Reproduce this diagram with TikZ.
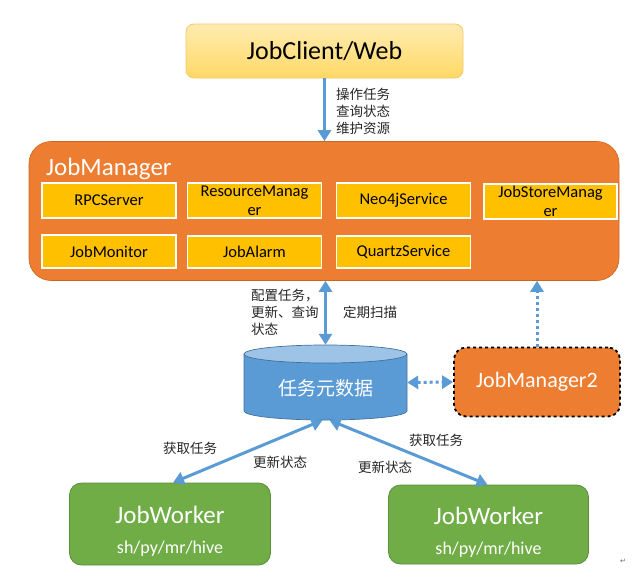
\documentclass[tikz,border=0pt]{standalone}
\usepackage{fontspec}
\setmainfont{Carlito}
\newfontfamily\cjk{Noto Sans CJK SC}
\newfontfamily\djv{DejaVu Sans}
\usetikzlibrary{arrows.meta}
\definecolor{arrowblue}{HTML}{5B9BD5}
\definecolor{jmorange}{HTML}{ED7D31}
\definecolor{jmborder}{HTML}{C9651F}
\definecolor{subfill}{HTML}{FFC000}
\definecolor{wgreen}{HTML}{70AD47}
\definecolor{wborder}{HTML}{5B8F3A}
\definecolor{cltop}{HTML}{FFEBB0}
\definecolor{clbot}{HTML}{FFD966}
\definecolor{clborder}{HTML}{F6C76B}
\definecolor{cylbody}{HTML}{5B9BD5}
\definecolor{cyltop}{HTML}{9DC3E6}
\definecolor{cylborder}{HTML}{41719C}
\tikzset{
  flow/.style={line width=3pt, draw=arrowblue, -{Triangle[length=11pt,width=13pt]}},
  flowboth/.style={line width=3pt, draw=arrowblue, {Triangle[length=11pt,width=13pt]}-{Triangle[length=11pt,width=13pt]}},
  dotflow/.style={flow, dash pattern=on 3pt off 3pt},
  dotflowboth/.style={flowboth, dash pattern=on 3pt off 3pt},
  subbox/.style={rectangle, fill=subfill, draw=white, line width=1.5pt, inner sep=0pt,
    minimum width=134pt, minimum height=35pt, align=center,
    font=\fontsize{16.5}{19}\selectfont},
  worker/.style={rectangle, rounded corners=12pt, fill=wgreen, draw=wborder, line width=0.8pt,
    minimum width=201pt, minimum height=82pt},
  wtitle/.style={text=white, font=\fontsize{25}{28}\selectfont, inner sep=0pt},
  wsub/.style={text=white, font=\fontsize{18}{20}\selectfont, inner sep=0pt},
  lbl/.style={font=\cjk\fontsize{13.5}{17}\selectfont, text=black!85, inner sep=0pt, align=left},
}
\begin{document}
\begin{tikzpicture}[x=1pt,y=1pt]
\useasboundingbox (0,0) rectangle (642,-570);

% client
\node[rectangle, rounded corners=8pt, top color=cltop, bottom color=clbot, draw=clborder, line width=0.8pt,
  minimum width=277pt, minimum height=54pt, font=\fontsize{26}{28}\selectfont] (client) at (324.5,-51) {JobClient/Web};

% job manager
\node[rectangle, rounded corners=22pt, fill=jmorange, draw=jmborder, line width=0.6pt,
  minimum width=590pt, minimum height=139pt] (jm) at (324,-211) {};
\node[anchor=base west, text=white, font=\fontsize{25}{27}\selectfont, inner sep=0pt] (jmtitle) at (46,-175) {JobManager};

\node[subbox] (rpc) at (109,-200.5) {RPCServer};
\node[subbox] (res) at (254.5,-200.5) {ResourceManag\\er};
\node[subbox] (neo) at (403.5,-200.5) {Neo4jService};
\node[subbox, minimum width=133pt] (jsm) at (550.5,-201.5) {JobStoreManag\\er};
\node[subbox, minimum height=33pt] (mon) at (109,-251.5) {JobMonitor};
\node[subbox, minimum height=32pt] (alarm) at (254.5,-252) {JobAlarm};
\node[subbox, minimum height=32pt] (quartz) at (403.5,-252) {QuartzService};

% client -> jm
\draw[flow] (client.south) -- (client.south |- jm.north);
\node[lbl, anchor=north west] (cllbl) at (336,-88) {操作任务\\查询状态\\维护资源};

% cylinder
\fill[cylbody] (244,-354) -- (244,-411) arc[start angle=180,end angle=360,x radius=81.5pt,y radius=9pt] -- (407,-354) -- cycle;
\draw[cylborder, line width=0.7pt] (244,-354) -- (244,-411) arc[start angle=180,end angle=360,x radius=81.5pt,y radius=9pt] -- (407,-354);
\filldraw[fill=cyltop, draw=cylborder, line width=0.7pt] (325.5,-354) ellipse[x radius=81.5pt, y radius=9pt];
\node[rectangle, minimum width=163pt, minimum height=75pt, inner sep=0pt] (db) at (325.5,-382.5) {};
\node[text=white, font=\cjk\fontsize{19}{21}\selectfont] (dbtext) at (325.5,-388) {任务元数据};

% jm <-> db
\draw[flowboth] (db.north |- jm.south) -- (db.north);
\node[lbl, anchor=north west] (cfglbl) at (251,-289) {配置任务，\\更新、查询\\状态};
\node[lbl, anchor=west] (scanlbl) at (343,-312) {定期扫描};

% jobmanager2
\node[rectangle, rounded corners=12pt, fill=jmorange, draw=black, dashed, line width=1.8pt,
  minimum width=166pt, minimum height=69pt, text=white, font=\fontsize{22}{24}\selectfont] (jm2) at (537,-382) {JobManager2};
\draw[dotflowboth] (db.east) -- (jm2.west);
\draw[dotflow] (jm2.north) -- (jm2.north |- jm.south);

% workers
\node[worker] (wa) at (170,-524) {};
\node[worker, minimum width=200pt, minimum height=79pt] (wb) at (488.5,-524.5) {};
\node[wtitle] (wat) at (170,-515) {JobWorker};
\node[wsub] (was) at (170,-549) {sh/py/mr/hive};
\node[wtitle] (wbt) at (488.5,-516) {JobWorker};
\node[wsub] (wbs) at (488.5,-550) {sh/py/mr/hive};

\draw[flowboth] ([xshift=-3pt]db.south) -- ([xshift=3pt]wa.north);
\draw[flowboth] ([xshift=4pt]db.south) -- ([xshift=-1pt]wb.north);

\node[lbl, anchor=west] (gl) at (163,-448) {获取任务};
\node[lbl, anchor=west] (ul) at (253,-462) {更新状态};
\node[lbl, anchor=west] (ur) at (358,-467) {更新状态};
\node[lbl, anchor=west] (gr) at (409,-440) {获取任务};

\node[text=black!60, font=\djv\fontsize{7}{8}\selectfont, inner sep=0pt] (para) at (623,-561) {↵};
\end{tikzpicture}
\end{document}
